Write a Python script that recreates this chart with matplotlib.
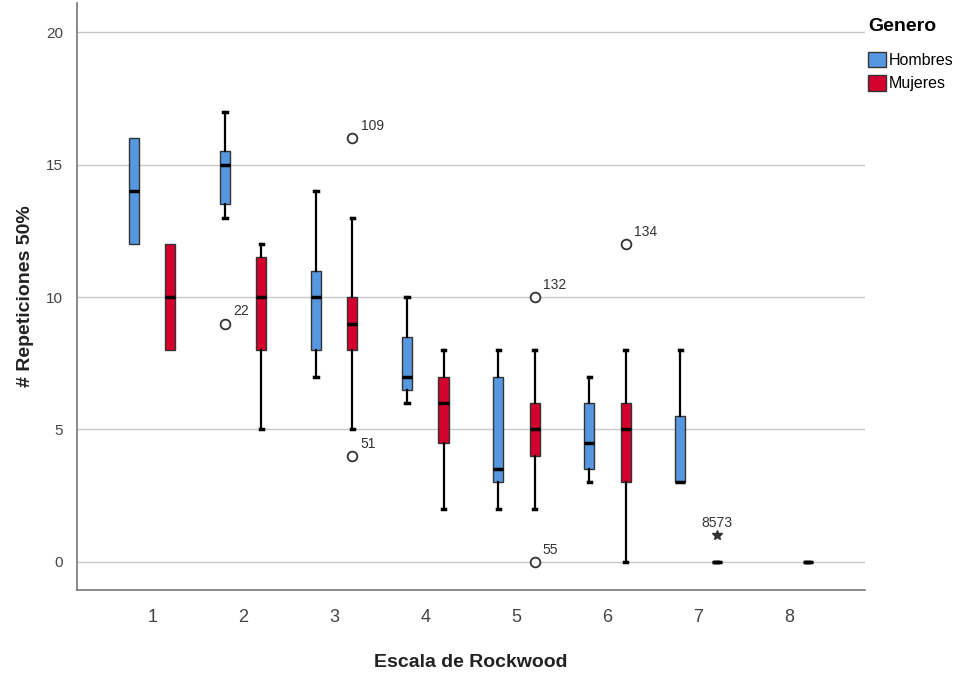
import matplotlib
matplotlib.use("Agg")
import matplotlib.pyplot as plt
from matplotlib.patches import Patch

plt.rcParams['font.family'] = ['Liberation Sans', 'DejaVu Sans']

groups = [1, 2, 3, 4, 5, 6, 7, 8]

# Hombres (groups 1-7)
h_groups = [1, 2, 3, 4, 5, 6, 7]
h_whislo = [12, 13, 7, 6, 2, 3, 3]
h_q1 = [12, 13.5, 8, 6.5, 3, 3.5, 3]
h_med = [14, 15, 10, 7, 3.5, 4.5, 3]
h_q3 = [16, 15.5, 11, 8.5, 7, 6, 5.5]
h_whishi = [16, 17, 14, 10, 8, 7, 8]

# Mujeres (groups 1-8)
m_groups = [1, 2, 3, 4, 5, 6, 7, 8]
m_whislo = [8, 5, 5, 2, 2, 0, 0, 0]
m_q1 = [8, 8, 8, 4.5, 4, 3, 0, 0]
m_med = [10, 10, 9, 6, 5, 5, 0, 0]
m_q3 = [12, 11.5, 10, 7, 6, 6, 0, 0]
m_whishi = [12, 12, 13, 8, 8, 8, 0, 0]

# outliers: (group, sexo, value, label)
out_group = [2, 3, 3, 5, 5, 6]
out_sex = ['H', 'M', 'M', 'M', 'M', 'M']
out_value = [9, 16, 4, 10, 0, 12]
out_label = ['22', '109', '51', '132', '55', '134']

ext_group = [7]
ext_sex = ['M']
ext_value = [1]
ext_label = ['8573']

blue = '#5598E0'
red = '#D4002E'
offset = 0.2
width = 0.11


def stats(whislo, q1, med, q3, whishi):
    return [dict(whislo=a, q1=b, med=c, q3=d, whishi=e, fliers=[])
            for a, b, c, d, e in zip(whislo, q1, med, q3, whishi)]


fig = plt.figure(figsize=(9.65, 6.73), dpi=100)
ax = fig.add_axes([0.0798, 0.1233, 0.8162, 0.8722])

for y in [0, 5, 10, 15, 20]:
    ax.axhline(y, color='#c8c8c8', lw=1, zorder=0)

for grp, sts, col, sign in [(h_groups, stats(h_whislo, h_q1, h_med, h_q3, h_whishi), blue, -1),
                            (m_groups, stats(m_whislo, m_q1, m_med, m_q3, m_whishi), red, 1)]:
    pos = [g + sign * offset for g in grp]
    parts = ax.bxp(sts, positions=pos, widths=width, patch_artist=True, showfliers=False,
                   boxprops=dict(facecolor=col, edgecolor='#333333', lw=1),
                   medianprops=dict(color='black', lw=2.5, solid_capstyle='butt'),
                   whiskerprops=dict(color='black', lw=1.6),
                   capprops=dict(color='black', lw=2.5),
                   capwidths=0.035, manage_ticks=False)
    # no cap where the whisker has zero length
    for i, s in enumerate(sts):
        if s['whislo'] == s['q1'] and s['q1'] != s['q3']:
            parts['caps'][2 * i].set_visible(False)
        if s['whishi'] == s['q3'] and s['q1'] != s['q3']:
            parts['caps'][2 * i + 1].set_visible(False)

for g, s, v, lab in zip(out_group, out_sex, out_value, out_label):
    x = g + (offset if s == 'M' else -offset)
    ax.plot(x, v, 'o', mfc='white', mec='#333333', ms=7, mew=1.3, zorder=3)
    ax.annotate(lab, (x, v), xytext=(6, 6), textcoords='offset points',
                fontsize=10, color='#333333')

for g, s, v, lab in zip(ext_group, ext_sex, ext_value, ext_label):
    x = g + (offset if s == 'M' else -offset)
    ax.plot(x, v, '*', color='#333333', ms=7, zorder=3)
    ax.annotate(lab, (x, v), xytext=(0, 6), textcoords='offset points',
                fontsize=10, color='#333333', ha='center')

ax.set_xlim(0.175, 8.825)
ax.set_ylim(-1.06, 21.1)
ax.set_xticks(groups)
ax.set_xticklabels([str(g) for g in groups], fontsize=13, color='#444444')
ax.set_yticks([0, 5, 10, 15, 20])
ax.tick_params(axis='y', length=0, labelsize=11, labelcolor='#444444', pad=10)
ax.tick_params(axis='x', length=0, pad=14)
for sp in ['top', 'right']:
    ax.spines[sp].set_visible(False)
for sp in ['left', 'bottom']:
    ax.spines[sp].set_color('#777777')
    ax.spines[sp].set_linewidth(1.2)

ax.set_xlabel('Escala de Rockwood', fontsize=14, fontweight='bold', color='#222222', labelpad=20)
ax.set_ylabel('# Repeticiones 50%', fontsize=14, fontweight='bold', color='#222222', labelpad=9)

handles = [Patch(facecolor=blue, edgecolor='#333333', label='Hombres'),
           Patch(facecolor=red, edgecolor='#333333', label='Mujeres')]
leg = ax.legend(handles=handles, title='Genero', loc='upper left', bbox_to_anchor=(0.99, 0.993),
                frameon=False, fontsize=11.5, title_fontproperties=dict(weight='bold', size=14),
                handlelength=1.1, handleheight=1.1, handletextpad=0.2, labelspacing=0.45,
                borderaxespad=0.3)
leg._legend_box.align = 'left'
leg._legend_box.sep = 12

fig.savefig('out.png', dpi=100)
